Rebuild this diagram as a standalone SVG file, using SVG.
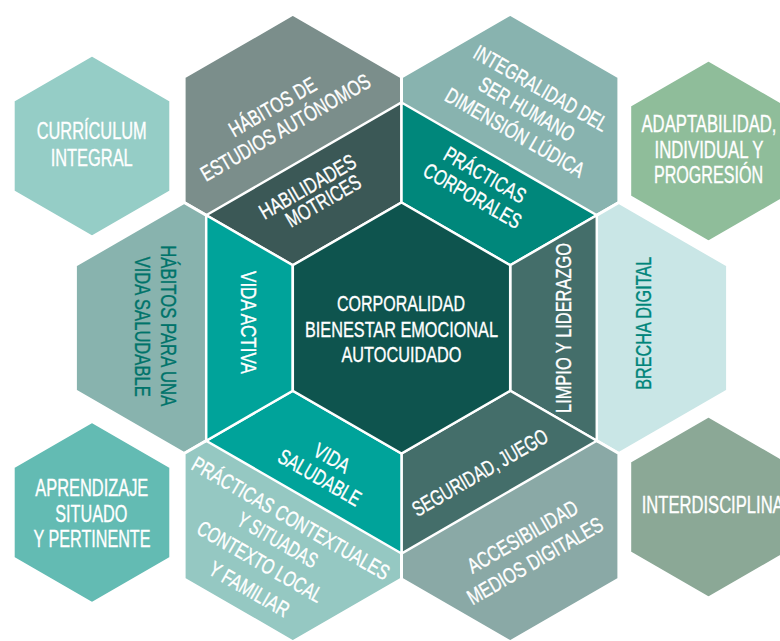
<svg xmlns="http://www.w3.org/2000/svg" width="780" height="641" viewBox="0 0 780 641">
<style>
.hex{stroke:#ffffff;stroke-width:3;stroke-linejoin:miter}
.seg{stroke:#ffffff;stroke-width:2.5;stroke-linejoin:miter}
.t{font-family:"Liberation Sans","Arial",sans-serif;font-size:21.5px;fill:#ffffff;stroke:#ffffff;stroke-width:0.35;text-anchor:middle}
.s{font-family:"Liberation Sans","Arial",sans-serif;font-size:23px;fill:#ffffff;stroke:#ffffff;stroke-width:0.35;text-anchor:middle}
.dk{fill:#00736a;stroke:#00736a}
.br{fill:#00857a;stroke:#00857a}
</style>
<rect width="780" height="641" fill="#ffffff"/>

<g id="habitos-estudios">
<polygon class="hex" fill="#7b8e8b" points="292.8,14.25 401.5,77 401.5,202.5 292.8,265.25 184.1,202.5 184.1,77"/>
<text class="t" transform="translate(272.5,107) rotate(-30)" y="7.4" textLength="97" lengthAdjust="spacingAndGlyphs">HÁBITOS DE</text>
<text class="t" transform="translate(285.5,127.5) rotate(-30)" y="7.4" textLength="192" lengthAdjust="spacingAndGlyphs">ESTUDIOS AUTÓNOMOS</text>
</g>

<g id="integralidad">
<polygon class="hex" fill="#88b3af" points="510.2,14.25 618.9,77 618.9,202.5 510.2,265.25 401.5,202.5 401.5,77"/>
<text class="t" transform="translate(540.8,88.3) rotate(30)" y="7.4" textLength="151" lengthAdjust="spacingAndGlyphs">INTEGRALIDAD DEL</text>
<text class="t" transform="translate(526.7,109.2) rotate(30)" y="7.4" textLength="107" lengthAdjust="spacingAndGlyphs">SER HUMANO</text>
<text class="t" transform="translate(515,132.5) rotate(30)" y="7.4" textLength="157" lengthAdjust="spacingAndGlyphs">DIMENSIÓN LÚDICA</text>
</g>

<g id="habitos-vida-saludable">
<polygon class="hex" fill="#88b3ae" points="184.1,202.5 292.8,265.25 292.8,390.75 184.1,453.5 75.4,390.75 75.4,265.25"/>
<text class="t dk" transform="translate(168.8,325.8) rotate(90)" y="7.4" textLength="161" lengthAdjust="spacingAndGlyphs">HÁBITOS PARA UNA</text>
<text class="t dk" transform="translate(142.5,326.7) rotate(90)" y="7.4" textLength="140" lengthAdjust="spacingAndGlyphs">VIDA SALUDABLE</text>
</g>

<g id="brecha-digital">
<polygon class="hex" fill="#c9e6e6" points="618.9,202.5 727.6,265.25 727.6,390.75 618.9,453.5 510.2,390.75 510.2,265.25"/>
<text class="t br" transform="translate(643.3,323.3) rotate(-90)" y="7.4" textLength="133" lengthAdjust="spacingAndGlyphs">BRECHA DIGITAL</text>
</g>

<g id="practicas-contextuales">
<polygon class="hex" fill="#95c8c2" points="292.8,390.75 401.5,453.5 401.5,579 292.8,641.75 184.1,579 184.1,453.5"/>
<text class="t" transform="translate(290.8,518.3) rotate(30)" y="7.4" textLength="224" lengthAdjust="spacingAndGlyphs">PRÁCTICAS CONTEXTUALES</text>
<text class="t" transform="translate(277.5,540) rotate(30)" y="7.4" textLength="89" lengthAdjust="spacingAndGlyphs">Y SITUADAS</text>
<text class="t" transform="translate(260,561.7) rotate(30)" y="7.4" textLength="141" lengthAdjust="spacingAndGlyphs">CONTEXTO LOCAL</text>
<text class="t" transform="translate(249.2,589.2) rotate(30)" y="7.4" textLength="89" lengthAdjust="spacingAndGlyphs">Y FAMILIAR</text>
</g>

<g id="accesibilidad">
<polygon class="hex" fill="#8aa9a6" points="510.2,390.75 618.9,453.5 618.9,579 510.2,641.75 401.5,579 401.5,453.5"/>
<text class="t" transform="translate(522.5,536.7) rotate(-30)" y="7.4" textLength="124" lengthAdjust="spacingAndGlyphs">ACCESIBILIDAD</text>
<text class="t" transform="translate(535,560.8) rotate(-30)" y="7.4" textLength="153" lengthAdjust="spacingAndGlyphs">MEDIOS DIGITALES</text>
</g>

<g id="curriculum">
<polygon class="hex" fill="#95cdc6" points="92,55 170.8,100.5 170.8,191.5 92,237 13.2,191.5 13.2,100.5"/>
<text class="s" x="91.7" y="139" textLength="110" lengthAdjust="spacingAndGlyphs">CURRÍCULUM</text>
<text class="s" x="91.7" y="165.5" textLength="82" lengthAdjust="spacingAndGlyphs">INTEGRAL</text>
</g>

<g id="adaptabilidad">
<polygon class="hex" fill="#8fbd9a" points="708.5,60 787.3,105.5 787.3,196.5 708.5,242 629.7,196.5 629.7,105.5"/>
<text class="s" x="709" y="131.5" textLength="135" lengthAdjust="spacingAndGlyphs">ADAPTABILIDAD,</text>
<text class="s" x="709" y="157.8" textLength="109" lengthAdjust="spacingAndGlyphs">INDIVIDUAL Y</text>
<text class="s" x="708.5" y="183.3" textLength="109" lengthAdjust="spacingAndGlyphs">PROGRESIÓN</text>
</g>

<g id="aprendizaje">
<polygon class="hex" fill="#63bbb3" points="92,421.5 170.8,467 170.8,558 92,603.5 13.2,558 13.2,467"/>
<text class="s" x="91.8" y="496" textLength="113" lengthAdjust="spacingAndGlyphs">APRENDIZAJE</text>
<text class="s" x="91.3" y="521.7" textLength="72" lengthAdjust="spacingAndGlyphs">SITUADO</text>
<text class="s" x="92" y="546.7" textLength="117" lengthAdjust="spacingAndGlyphs">Y PERTINENTE</text>
</g>

<g id="interdisciplina">
<polygon class="hex" fill="#8ba896" points="708.5,416 787.3,461.5 787.3,552.5 708.5,598 629.7,552.5 629.7,461.5"/>
<text class="s" x="641.7" y="512.7" style="text-anchor:start" textLength="142" lengthAdjust="spacingAndGlyphs">INTERDISCIPLINA</text>
</g>

<g id="habilidades-motrices">
<polygon class="seg" fill="#3b5856" points="206.2,215.25 401.5,102.5 401.5,202.5 292.8,265.25"/>
<text class="t" transform="translate(307.5,186.7) rotate(-30)" y="7.4" textLength="108" lengthAdjust="spacingAndGlyphs">HABILIDADES</text>
<text class="t" transform="translate(323.3,200.8) rotate(-30)" y="7.4" textLength="83" lengthAdjust="spacingAndGlyphs">MOTRICES</text>
</g>

<g id="practicas-corporales">
<polygon class="seg" fill="#00877b" points="401.5,102.5 596.8,215.25 510.2,265.25 401.5,202.5"/>
<text class="t" transform="translate(485,175) rotate(30)" y="7.4" textLength="91" lengthAdjust="spacingAndGlyphs">PRÁCTICAS</text>
<text class="t" transform="translate(472.5,195.8) rotate(30)" y="7.4" textLength="109" lengthAdjust="spacingAndGlyphs">CORPORALES</text>
</g>

<g id="limpio-liderazgo">
<polygon class="seg" fill="#446e6a" points="596.8,215.25 596.8,440.75 510.2,390.75 510.2,265.25"/>
<text class="t" transform="translate(563.5,328) rotate(-90)" y="7.4" textLength="170" lengthAdjust="spacingAndGlyphs">LIMPIO Y LIDERAZGO</text>
</g>

<g id="seguridad-juego">
<polygon class="seg" fill="#446e6a" points="596.8,440.75 401.5,553.5 401.5,453.5 510.2,390.75"/>
<text class="t" transform="translate(480,472.5) rotate(-30)" y="7.4" textLength="153" lengthAdjust="spacingAndGlyphs">SEGURIDAD, JUEGO</text>
</g>

<g id="vida-saludable">
<polygon class="seg" fill="#00a39a" points="401.5,553.5 206.2,440.75 292.8,390.75 401.5,453.5"/>
<text class="t" transform="translate(332,458) rotate(30)" y="7.4" textLength="38" lengthAdjust="spacingAndGlyphs">VIDA</text>
<text class="t" transform="translate(319.7,477.5) rotate(30)" y="7.4" textLength="92" lengthAdjust="spacingAndGlyphs">SALUDABLE</text>
</g>

<g id="vida-activa">
<polygon class="seg" fill="#00a39a" points="206.2,440.75 206.2,215.25 292.8,265.25 292.8,390.75"/>
<text class="t" transform="translate(248.7,322.5) rotate(90)" y="7.4" textLength="103" lengthAdjust="spacingAndGlyphs">VIDA ACTIVA</text>
</g>

<g id="centro">
<polygon class="seg" fill="#0e544e" points="401.5,202.5 510.2,265.25 510.2,390.75 401.5,453.5 292.8,390.75 292.8,265.25"/>
<text class="t" x="401" y="310.7" textLength="128" lengthAdjust="spacingAndGlyphs">CORPORALIDAD</text>
<text class="t" x="401.5" y="336.7" textLength="193" lengthAdjust="spacingAndGlyphs">BIENESTAR EMOCIONAL</text>
<text class="t" x="401.5" y="361.7" textLength="120" lengthAdjust="spacingAndGlyphs">AUTOCUIDADO</text>
</g>

<g id="connectors"></g>
</svg>
